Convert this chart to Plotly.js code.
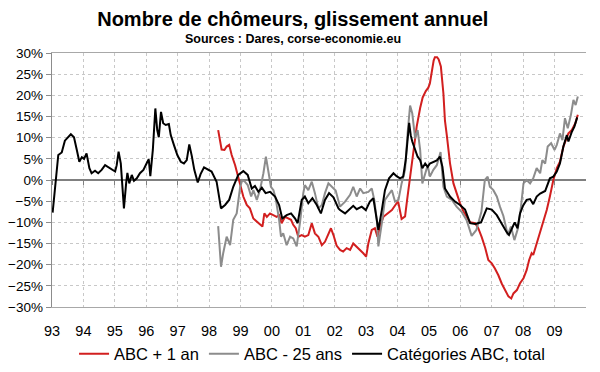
<!DOCTYPE html>
<html>
<head>
<meta charset="utf-8">
<script src="https://cdn.plot.ly/plotly-3.0.1.min.js"></script>
<style>html,body{margin:0;padding:0;background:#fff;}#chart{width:600px;height:372px;}</style>
</head>
<body>
<div id="chart"></div>
<script>
// Year tick labels
var tickYears = [1993,1994,1995,1996,1997,1998,1999,2000,2001,2002,2003,2004,2005,2006,2007,2008,2009];
var tickLabels = ['93','94','95','96','97','98','99','00','01','02','03','04','05','06','07','08','09'];

// ABC + 1 an (red)
var plus1Dates = [1998.29,1998.35,1998.40,1998.49,1998.56,1998.64,1998.72,1998.83,1998.93,1999.02,
  1999.09,1999.20,1999.30,1999.41,1999.52,1999.62,1999.70,1999.76,1999.84,1999.94,
  2000.05,2000.15,2000.23,2000.31,2000.42,2000.52,2000.61,2000.68,2000.76,2000.84,
  2000.95,2001.05,2001.16,2001.27,2001.37,2001.48,2001.59,2001.69,2001.80,2001.88,
  2001.96,2002.06,2002.17,2002.27,2002.38,2002.49,2002.59,2002.75,2002.91,2003.00,
  2003.07,2003.18,2003.28,2003.36,2003.44,2003.55,2003.68,2003.82,2003.97,2004.02,
  2004.13,2004.24,2004.30,2004.38,2004.45,2004.53,2004.61,2004.72,2004.80,2004.90,
  2004.98,2005.03,2005.09,2005.15,2005.19,2005.26,2005.31,2005.38,2005.46,2005.51,
  2005.57,2005.61,2005.67,2005.78,2005.88,2005.99,2006.09,2006.20,2006.31,2006.47,
  2006.57,2006.68,2006.79,2006.89,2007.00,2007.10,2007.21,2007.32,2007.43,2007.53,
  2007.62,2007.69,2007.80,2007.90,2008.01,2008.11,2008.19,2008.27,2008.32,2008.43,
  2008.54,2008.64,2008.75,2008.85,2008.96,2009.07,2009.17,2009.28,2009.36,2009.44,
  2009.55,2009.66,2009.74];
var plus1Values = [11.8,9.4,7.2,7.1,7.9,8.3,5.9,3.5,0.8,-1.6,
  -3.9,-5.9,-6.7,-9.1,-9.8,-10.6,-11.0,-7.9,-8.7,-7.9,
  -8.3,-8.7,-8.3,-10.2,-8.7,-9.1,-9.4,-10.6,-11.4,-13.4,
  -13.0,-13.4,-13.0,-10.2,-12.6,-13.4,-15.4,-14.6,-12.6,-11.4,
  -13.0,-15.5,-16.5,-16.9,-16.1,-16.5,-15.0,-16.1,-17.3,-18.1,
  -15.0,-11.8,-11.4,-13.4,-11.0,-8.7,-7.9,-7.1,-5.5,-5.1,
  -9.2,-8.6,-5.0,-0.4,4.7,8.7,12.6,17.0,19.5,21.0,
  21.8,22.8,26.0,28.2,29.0,29.0,28.5,26.8,20.5,14.0,
  10.5,7.1,4.0,-0.8,-3.1,-5.5,-7.3,-8.7,-10.0,-10.2,
  -11.4,-13.5,-16.0,-18.9,-19.7,-20.9,-22.5,-24.5,-26.2,-27.5,
  -28.0,-26.8,-26.0,-24.4,-23.2,-21.3,-18.9,-17.3,-17.7,-15.0,
  -12.2,-9.4,-7.1,-3.9,0,2.8,4.3,7.9,9.4,11.0,
  11.8,13.4,15.4];

// ABC - 25 ans (gray)
var under25Dates = [1998.29,1998.38,1998.45,1998.56,1998.67,1998.77,1998.88,1998.99,1999.06,1999.14,
  1999.23,1999.34,1999.41,1999.52,1999.62,1999.73,1999.81,1999.89,1999.97,2000.05,
  2000.12,2000.23,2000.29,2000.36,2000.47,2000.58,2000.68,2000.79,2000.90,2001.00,
  2001.05,2001.16,2001.27,2001.37,2001.48,2001.59,2001.69,2001.80,2001.90,2002.03,
  2002.17,2002.33,2002.49,2002.59,2002.70,2002.81,2002.91,2003.07,2003.18,2003.26,
  2003.34,2003.39,2003.50,2003.60,2003.71,2003.82,2003.92,2004.03,2004.13,2004.24,
  2004.32,2004.40,2004.47,2004.56,2004.64,2004.72,2004.79,2004.88,2004.96,2005.03,
  2005.14,2005.25,2005.37,2005.46,2005.57,2005.73,2005.88,2006.04,2006.20,2006.36,
  2006.51,2006.67,2006.78,2006.87,2006.94,2007.05,2007.16,2007.26,2007.37,2007.51,
  2007.61,2007.72,2007.83,2007.93,2008.01,2008.11,2008.22,2008.32,2008.43,2008.54,
  2008.61,2008.70,2008.78,2008.89,2009.00,2009.07,2009.17,2009.25,2009.33,2009.42,
  2009.52,2009.60,2009.67,2009.74];
var under25Values = [-10.9,-20.5,-17.3,-13.4,-15.4,-9.4,-7.9,-1.6,0,-0.4,
  -1.2,-3.9,-2.4,-4.7,-2.4,1.6,5.5,2.4,-1.6,-2.4,
  -4.3,-9.4,-13.4,-12.6,-15.4,-13.4,-13.8,-15.7,-9.8,-3.1,
  -1.2,-2.4,-0.4,-3.1,-6.7,-5.9,-3.1,-0.8,-1.6,-2.5,
  -6.3,-5.1,-3.5,-1.6,-3.9,-2.0,-3.1,-2.8,-2.0,-4.7,
  -9.4,-15.7,-10.2,-4.7,-3.5,-2.4,-5.1,-4.7,-0.8,2.4,
  11.0,17.6,15.7,9.8,11.8,7.1,-0.8,1.6,3.5,0.8,
  2.4,3.5,6.6,-1.6,-3.9,-4.7,-6.3,-7.5,-9.5,-13.2,
  -11.8,-7.5,0,0.8,-1.6,-2.4,-3.9,-6.3,-8.5,-13.0,
  -11.0,-14.2,-11.5,-6.3,-0.8,0,-0.8,0.4,2.8,1.6,
  4.7,3.9,7.9,8.7,7.1,8.3,11.0,9.4,14.6,12.2,
  15.4,18.9,17.7,19.7];

// Catégories ABC, total (black)
var totalDates = [1993.02,1993.20,1993.31,1993.41,1993.60,1993.70,1993.79,1993.87,1993.95,1994.02,
  1994.10,1994.19,1994.26,1994.37,1994.47,1994.58,1994.69,1994.79,1994.90,1995.01,
  1995.06,1995.12,1995.19,1995.25,1995.29,1995.36,1995.40,1995.46,1995.54,1995.61,
  1995.70,1995.80,1995.91,1996.01,1996.08,1996.13,1996.21,1996.29,1996.35,1996.40,
  1996.47,1996.54,1996.62,1996.72,1996.78,1996.88,1996.99,1997.10,1997.20,1997.29,
  1997.37,1997.45,1997.53,1997.64,1997.73,1997.84,1997.94,1998.08,1998.24,1998.38,
  1998.51,1998.64,1998.77,1998.93,1999.09,1999.23,1999.36,1999.46,1999.57,1999.68,
  1999.80,1999.94,2000.10,2000.23,2000.33,2000.47,2000.61,2000.74,2000.82,2000.95,
  2001.05,2001.16,2001.29,2001.43,2001.56,2001.69,2001.82,2001.96,2002.12,2002.17,
  2002.33,2002.49,2002.59,2002.70,2002.86,2002.99,2003.12,2003.23,2003.31,2003.39,
  2003.50,2003.60,2003.73,2003.87,2003.97,2004.08,2004.18,2004.26,2004.37,2004.42,
  2004.47,2004.56,2004.64,2004.72,2004.79,2004.88,2004.96,2005.03,2005.14,2005.25,
  2005.35,2005.43,2005.51,2005.67,2005.83,2005.99,2006.15,2006.31,2006.47,2006.66,
  2006.84,2007.00,2007.16,2007.32,2007.48,2007.55,2007.64,2007.73,2007.82,2007.90,
  2008.00,2008.11,2008.22,2008.32,2008.43,2008.54,2008.70,2008.80,2008.85,2008.96,
  2009.07,2009.17,2009.28,2009.39,2009.44,2009.55,2009.63,2009.72];
var totalValues = [-7.7,5.9,6.5,9.3,10.8,10.1,7.1,4.3,5.4,5.0,
  6.3,2.8,1.6,2.2,1.6,2.4,3.5,3.0,2.4,2.0,
  3.5,6.7,3.9,-2.4,-6.7,-0.8,1.7,-0.8,1.2,-0.2,
  0.4,1.6,2.4,3.9,4.9,0.9,7.1,16.9,11.8,10.1,
  16.1,13.4,13.0,13.2,10.6,8.3,5.9,4.3,3.9,4.7,
  8.4,5.7,2.4,-0.6,1.4,3.0,2.5,2.0,-0.4,-6.7,
  -5.9,-4.7,-1.6,1.2,2.1,1.2,-2.0,-1.4,-2.8,-1.8,
  -3.1,-2.8,-3.9,-5.9,-9.1,-8.3,-7.9,-9.1,-10.2,-4.7,
  -3.9,-5.5,-4.3,-5.9,-7.9,-4.7,-3.1,-4.1,-6.7,-7.1,
  -7.9,-6.7,-6.1,-6.9,-6.3,-7.1,-5.1,-4.3,-8.7,-11.8,
  -7.1,-2.4,0.4,1.6,0.9,0.4,0.8,4.7,13.5,10.6,
  9.1,7.1,5.5,4.7,2.8,3.9,3.1,3.9,4.3,4.6,
  5.5,3.1,-2.0,-3.9,-5.1,-5.9,-7.0,-10.2,-10.4,-10.0,
  -6.7,-7.0,-8.3,-10.4,-12.4,-13.0,-11.4,-10.0,-11.4,-7.9,
  -6.0,-4.7,-4.5,-5.7,-3.9,-3.2,-2.6,-0.8,0.4,0.8,
  2.0,3.9,7.9,10.6,9.1,11.4,12.6,14.8];

var FONT = 'Liberation Sans, Arial, sans-serif';

var traces = [
  {x: plus1Dates, y: plus1Values, name: 'ABC + 1 an', type: 'scatter', mode: 'lines',
   line: {color: '#d21f1f', width: 2}},
  {x: under25Dates, y: under25Values, name: 'ABC - 25 ans', type: 'scatter', mode: 'lines',
   line: {color: '#8c8c8c', width: 2}},
  {x: totalDates, y: totalValues, name: 'Catégories ABC, total', type: 'scatter', mode: 'lines',
   xaxis: 'x2', line: {color: '#000000', width: 2}}
];

var layout = {
  width: 600, height: 372,
  margin: {l: 52, r: 14, t: 53, b: 65, autoexpand: false},
  paper_bgcolor: '#ffffff', plot_bgcolor: '#ffffff',
  font: {family: FONT, color: '#000'},
  title: {text: '<b>Nombre de chômeurs, glissement annuel</b>',
          font: {family: FONT, size: 20, color: '#000'},
          x: 0.488, xanchor: 'center', y: 0.948, yanchor: 'middle'},
  annotations: [{text: '<b>Sources : Dares, corse-economie.eu</b>', xref: 'paper', yref: 'paper',
    x: 0.451, y: 1.055, xanchor: 'center', yanchor: 'middle', showarrow: false,
    font: {family: FONT, size: 12.5, color: '#000'}}],
  xaxis: {range: [1993, 2010], tickvals: tickYears, ticktext: tickLabels,
    showgrid: true, gridcolor: '#c8c8c8', griddash: 'dot', gridwidth: 1,
    ticks: '', showline: true, linecolor: '#a8a8a8', linewidth: 1, mirror: true,
    zeroline: false, tickfont: {family: FONT, size: 14.5, color: '#000'},
    ticklabelstandoff: 11, fixedrange: true, automargin: false},
  xaxis2: {range: [1993, 2010], tickvals: tickYears, overlaying: 'x', anchor: 'free',
    position: 0.5, showgrid: false, showticklabels: false, ticks: 'outside', ticklen: 4,
    tickcolor: '#808080', tickwidth: 1, showline: false, zeroline: false},
  yaxis: {range: [-30, 30], dtick: 5, tick0: 0, ticksuffix: '%',
    showgrid: true, gridcolor: '#c8c8c8', griddash: 'dot', gridwidth: 1,
    zeroline: true, zerolinecolor: '#808080', zerolinewidth: 1.5,
    showline: true, linecolor: '#8c8c8c', linewidth: 1.3, mirror: false,
    ticks: 'outside', ticklen: 5, tickcolor: '#8c8c8c', automargin: false,
    tickfont: {family: FONT, size: 13.5, color: '#000'}, fixedrange: true},
  showlegend: true,
  legend: {orientation: 'h', x: 0.487, xanchor: 'center', y: -0.185, yanchor: 'middle',
    font: {family: FONT, size: 16.5, color: '#000'}, itemwidth: 30, bgcolor: 'rgba(0,0,0,0)',
    traceorder: 'normal'}
};

Plotly.newPlot('chart', traces, layout, {displayModeBar: false, staticPlot: true});
</script>
</body>
</html>
